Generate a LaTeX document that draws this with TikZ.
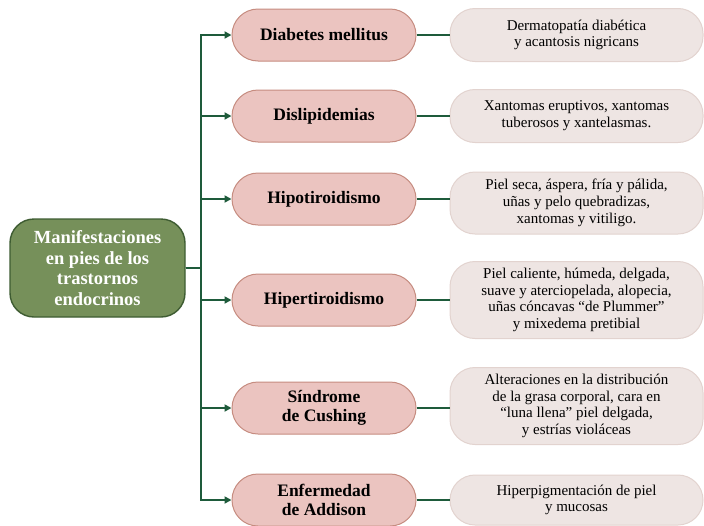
\documentclass[tikz,border=0pt]{standalone}
\usepackage{fontspec}
\setmainfont{Liberation Serif}
\usepackage{tikz}
\usetikzlibrary{arrows.meta}
\definecolor{linec}{HTML}{1E5B3B}
\definecolor{rootc}{HTML}{76905A}
\definecolor{rootb}{HTML}{3E5C32}
\definecolor{midc}{HTML}{EBC4C0}
\definecolor{midb}{HTML}{C68C80}
\definecolor{leafc}{HTML}{EEE5E3}
\definecolor{leafb}{HTML}{E2D3CF}
\tikzset{
  ar/.style={-{Triangle[length=7pt,width=7pt]},line width=1.8pt,linec},
  ln/.style={line width=1.8pt,linec},
  root/.style={draw=rootb,line width=1.4pt,rounded corners=24pt,fill=rootc,text=white,align=center,
    font=\fontsize{18.5}{20.6}\selectfont\bfseries,minimum width=175pt,minimum height=98pt,inner sep=0pt},
  mid/.style={draw=midb,line width=1pt,rounded corners=26pt,fill=midc,align=center,
    font=\fontsize{17.5}{19.5}\selectfont\bfseries,minimum width=184pt,minimum height=52pt,inner sep=0pt},
  leaf/.style={draw=leafb,line width=1pt,rounded corners=25pt,fill=leafc,align=center,
    font=\fontsize{15}{16.7}\selectfont,minimum width=253pt,inner sep=0pt}
}
\begin{document}
\begin{tikzpicture}[x=1pt,y=-1pt]
\useasboundingbox (0,0) rectangle (704,525);
\node[root] (root) at (97.5,268) {Manifestaciones\\en pies de los\\trastornos\\endocrinos};
\foreach \y/\ly/\h/\k/\A/\B in {
  35/35/53/m1/{Diabetes mellitus}/{Dermatopatía diabética\\y acantosis nigricans},
  116/116/53/m2/{Dislipidemias}/{Xantomas eruptivos, xantomas\\tuberosos y xantelasmas.},
  199/203/62/m3/{Hipotiroidismo}/{Piel seca, áspera, fría y pálida,\\uñas y pelo quebradizas,\\xantomas y vitiligo.},
  300/300/77/m4/{Hipertiroidismo}/{Piel caliente, húmeda, delgada,\\suave y aterciopelada, alopecia,\\uñas cóncavas “de Plummer”\\y mixedema pretibial},
  408/406/77/m5/{Síndrome\\de Cushing}/{Alteraciones en la distribución\\de la grasa corporal, cara en\\“luna llena” piel delgada,\\y estrías violáceas},
  500/500/50/m6/{Enfermedad\\de Addison}/{Hiperpigmentación de piel\\y mucosas}}{
  \node[mid] (\k) at (324,\y) {\A};
  \node[leaf,minimum height=\h pt] (\k l) at (576.5,\ly) {\B};
  \draw[ln] (\k.east) -- (\k l.west |- \k.east);
  \draw[ar] (root.east) -- ++(15,0) |- (\k.west);
}
\end{tikzpicture}
\end{document}
